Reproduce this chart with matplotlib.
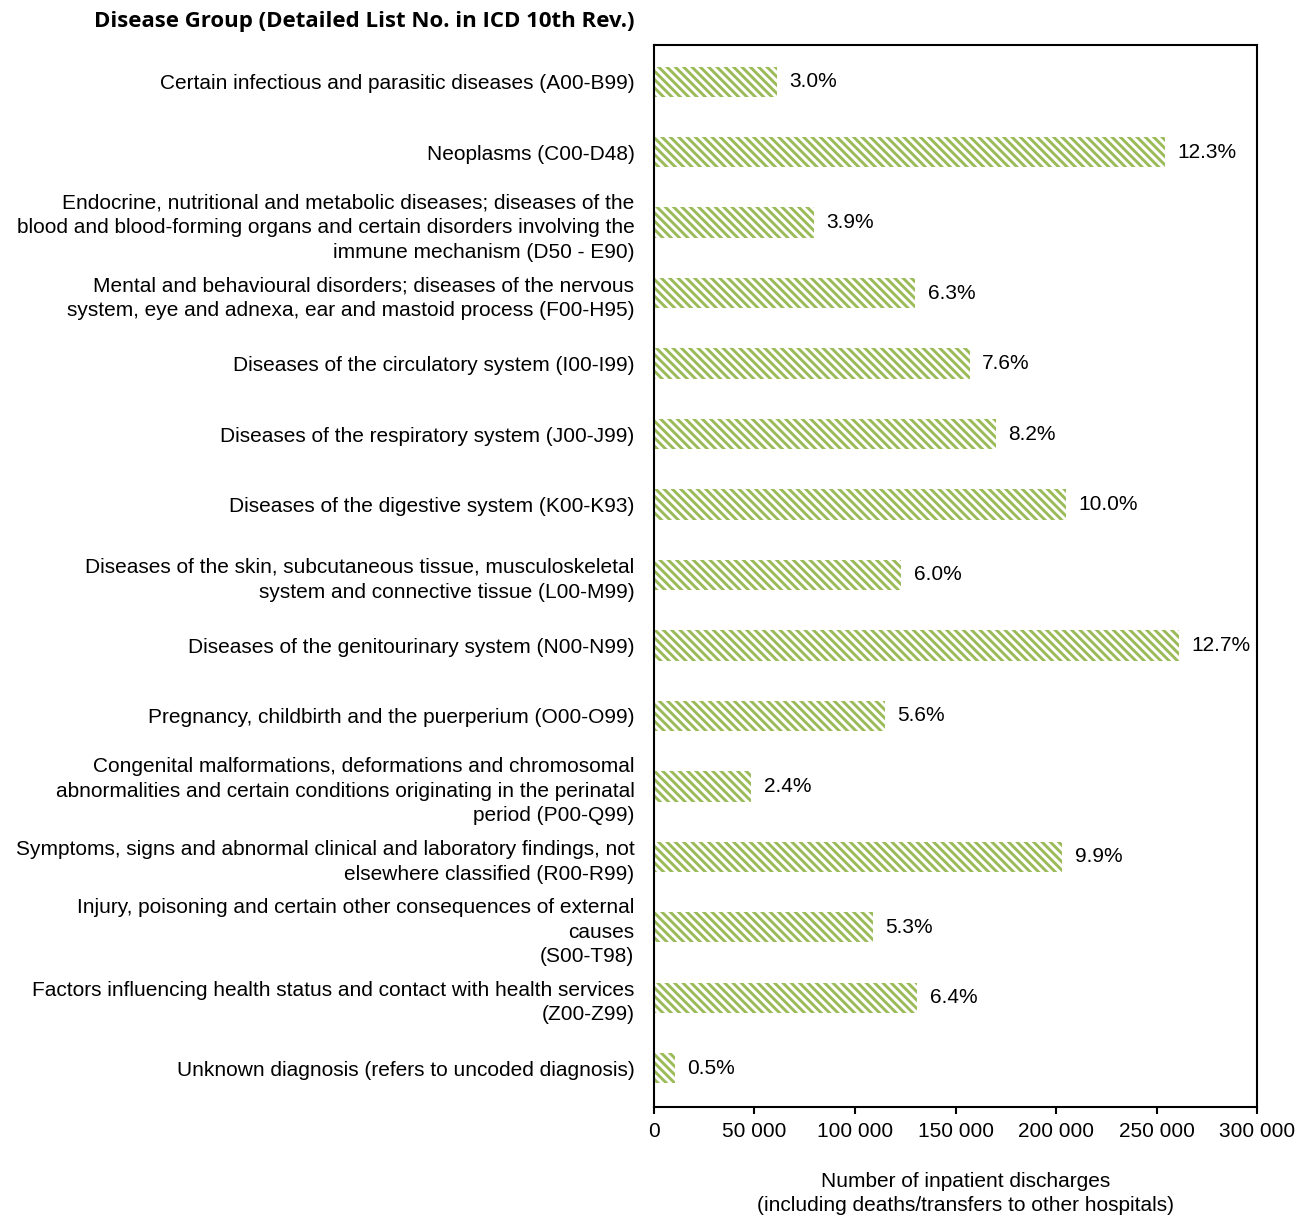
import matplotlib
matplotlib.use("Agg")
import matplotlib.pyplot as plt
from matplotlib.ticker import FuncFormatter, MultipleLocator

# Disease groups, top to bottom as in the chart
groups = [
    "Certain infectious and parasitic diseases (A00-B99)",
    "Neoplasms (C00-D48)",
    "Endocrine, nutritional and metabolic diseases; diseases of the\n"
    "blood and blood-forming organs and certain disorders involving the\n"
    "immune mechanism (D50 - E90)",
    "Mental and behavioural disorders; diseases of the nervous\n"
    "system, eye and adnexa, ear and mastoid process (F00-H95)",
    "Diseases of the circulatory system (I00-I99)",
    "Diseases of the respiratory system (J00-J99)",
    "Diseases of the digestive system (K00-K93)",
    "Diseases of the skin, subcutaneous tissue, musculoskeletal\n"
    "system and connective tissue (L00-M99)",
    "Diseases of the genitourinary system (N00-N99)",
    "Pregnancy, childbirth and the puerperium (O00-O99)",
    "Congenital malformations, deformations and chromosomal\n"
    "abnormalities and certain conditions originating in the perinatal\n"
    "period (P00-Q99)",
    "Symptoms, signs and abnormal clinical and laboratory findings, not\n"
    "elsewhere classified (R00-R99)",
    "Injury, poisoning and certain other consequences of external\n"
    "causes\n(S00-T98)",
    "Factors influencing health status and contact with health services\n"
    "(Z00-Z99)",
    "Unknown diagnosis (refers to uncoded diagnosis)",
]

# Number of inpatient discharges
discharges = [61000, 254000, 79500, 130000, 157000, 170000, 205000, 123000,
              261000, 115000, 48500, 203000, 109000, 131000, 10500]

# Share of all discharges, %
shares = [3.0, 12.3, 3.9, 6.3, 7.6, 8.2, 10.0, 6.0, 12.7, 5.6, 2.4, 9.9, 5.3, 6.4, 0.5]

plt.rcParams['font.family'] = ['Liberation Sans', 'DejaVu Sans']
plt.rcParams['hatch.linewidth'] = 2.1

fig = plt.figure(figsize=(13.13, 12.17), dpi=100)
ax = fig.add_axes([0.498, 0.0904, 0.4595, 0.8726])

pos = list(range(len(groups)))
ax.barh(pos, discharges, height=0.43, color='white', edgecolor='#9bbb59',
        hatch='\\\\\\\\', linewidth=0)

for y, v, s in zip(pos, discharges, shares):
    ax.annotate(f"{s:.1f}%", xy=(v, y), xytext=(9, 0), textcoords='offset points',
                va='center', ha='left', fontsize=15)

ax.set_xlim(0, 300000)
ax.set_ylim(14.55, -0.52)
ax.xaxis.set_major_locator(MultipleLocator(50000))
ax.xaxis.set_major_formatter(FuncFormatter(lambda x, p: f"{x:,.0f}".replace(",", " ")))

ax.set_yticks(pos)
ax.set_yticklabels(groups, fontsize=15, ha='right', linespacing=1.38)
ax.tick_params(axis='y', length=0, pad=14)
ax.tick_params(axis='x', length=5, width=1.5, direction='out', labelsize=15, pad=6)

for sp in ax.spines.values():
    sp.set_linewidth(1.5)
    sp.set_color('black')

ax.set_xlabel("Number of inpatient discharges\n(including deaths/transfers to other hospitals)",
              fontsize=15, linespacing=1.38)
ax.xaxis.set_label_coords(0.516, -0.061, transform=ax.transAxes)

fig.text(94 / 1313, 1 - 22 / 1217, "Disease Group (Detailed List No. in ICD 10th Rev.)",
         fontsize=16, fontweight='bold', family=['Open Sans', 'DejaVu Sans'],
         ha='left', va='center')

fig.savefig("out.png", dpi=100)
